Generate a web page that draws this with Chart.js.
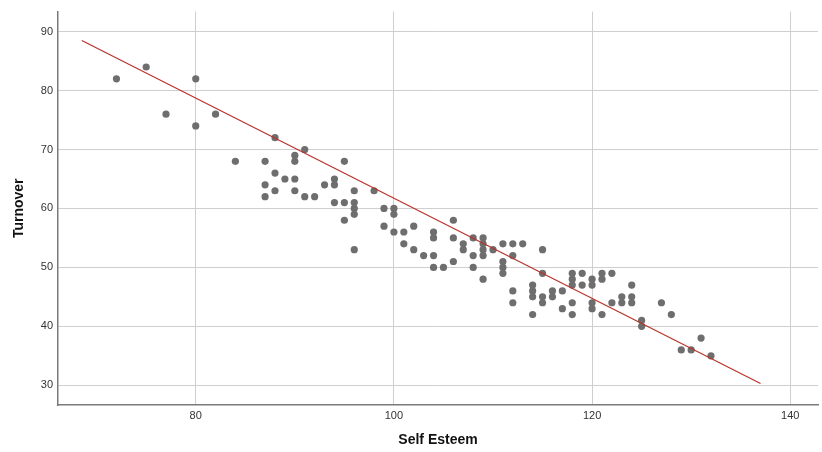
<!DOCTYPE html>
<html>
<head>
<meta charset="utf-8">
<script src="https://cdn.jsdelivr.net/npm/chart.js@4.4.1/dist/chart.umd.min.js"></script>
<style>
  html, body { margin: 0; padding: 0; background: #fff; }
  #wrap { width: 822px; height: 452px; }
</style>
</head>
<body>
<div id="wrap"><canvas id="scatterChart"></canvas></div>
<script>
// Scatter data
const selfEsteem = [
  72, 75, 77, 80, 80, 82, 84, 87, 87, 87, 88, 88, 88, 89, 90, 90, 90, 90, 91, 91,
  92, 93, 94, 94, 94, 95, 95, 95, 96, 96, 96, 96, 96, 98, 99, 99, 100, 100, 100, 101,
  101, 102, 102, 103, 104, 104, 104, 104, 105, 106, 106, 106, 107, 107, 108, 108, 108, 109, 109, 109,
  109, 109, 110, 111, 111, 111, 111, 112, 112, 112, 112, 113, 114, 114, 114, 114, 115, 115, 115, 115,
  116, 116, 117, 117, 118, 118, 118, 118, 118, 119, 119, 120, 120, 120, 120, 121, 121, 121, 122, 122,
  123, 123, 124, 124, 124, 125, 125, 127, 128, 129, 130, 131, 132
];
const turnover = [
  82, 84, 76, 82, 74, 76, 68, 68, 64, 62, 72, 66, 63, 65, 69, 68, 65, 63, 70, 62,
  62, 64, 65, 64, 61, 68, 61, 58, 63, 61, 60, 59, 53, 63, 60, 57, 60, 59, 56, 56,
  54, 57, 53, 52, 56, 55, 52, 50, 50, 58, 55, 51, 54, 53, 55, 52, 50, 55, 54, 53,
  52, 48, 53, 54, 51, 50, 49, 54, 52, 46, 44, 54, 47, 46, 45, 42, 53, 49, 45, 44,
  46, 45, 46, 43, 49, 48, 47, 44, 42, 49, 47, 48, 47, 44, 43, 49, 48, 42, 49, 44,
  45, 44, 47, 45, 44, 41, 40, 44, 42, 36, 36, 38, 35
];

// Fit line end points
const fitX = [68.5, 137.0];
const fitY = [88.5, 30.3];

const xTicks = [80, 100, 120, 140];
const yTicks = [30, 40, 50, 60, 70, 80, 90];

const points = selfEsteem.map((x, i) => ({ x: x, y: turnover[i] }));
const fitLine = fitX.map((x, i) => ({ x: x, y: fitY[i] }));

const tickFont = { family: 'Liberation Sans, Arial, sans-serif', size: 11 };
const titleFont = { family: 'Liberation Sans, Arial, sans-serif', size: 14, weight: 'bold' };

const ctx = document.getElementById('scatterChart').getContext('2d');
new Chart(ctx, {
  type: 'scatter',
  data: {
    datasets: [{
      label: 'Turnover',
      data: points,
      backgroundColor: '#6e6e6e',
      borderColor: '#6e6e6e',
      pointRadius: 3.6,
      pointBorderWidth: 0,
      order: 2
    }, {
      type: 'line',
      label: 'Fit',
      data: fitLine,
      borderColor: '#b8322b',
      borderWidth: 1.2,
      pointRadius: 0,
      fill: false,
      order: 1
    }]
  },
  options: {
    responsive: true,
    maintainAspectRatio: false,
    animation: false,
    layout: { padding: { top: 5, right: 2, left: 0, bottom: 0 } },
    plugins: {
      legend: { display: false },
      tooltip: { enabled: false }
    },
    scales: {
      x: {
        type: 'linear',
        min: 66.1,
        max: 142.8,
        afterBuildTicks: function(scale) {
          scale.ticks = xTicks.map(v => ({ value: v }));
        },
        afterFit: function(scale) { scale.height = 47; },
        grid: {
          color: '#cfcfcf',
          lineWidth: 1,
          drawTicks: false
        },
        border: { color: '#7a7a7a', width: 1.5 },
        ticks: {
          color: '#333',
          font: tickFont,
          padding: 4,
          maxRotation: 0
        },
        title: {
          display: true,
          text: 'Self Esteem',
          color: '#111',
          font: titleFont,
          padding: { top: 4, bottom: 3 }
        }
      },
      y: {
        type: 'linear',
        min: 26.65,
        max: 93.4,
        afterBuildTicks: function(scale) {
          scale.ticks = yTicks.map(v => ({ value: v }));
        },
        afterFit: function(scale) { scale.width = 58; },
        grid: {
          color: '#cfcfcf',
          lineWidth: 1,
          drawTicks: false
        },
        border: { color: '#7a7a7a', width: 1.5 },
        ticks: {
          color: '#333',
          font: tickFont,
          padding: 5
        },
        title: {
          display: true,
          text: 'Turnover',
          color: '#111',
          font: titleFont,
          padding: { top: 11, bottom: 4 }
        }
      }
    }
  }
});
</script>
</body>
</html>
